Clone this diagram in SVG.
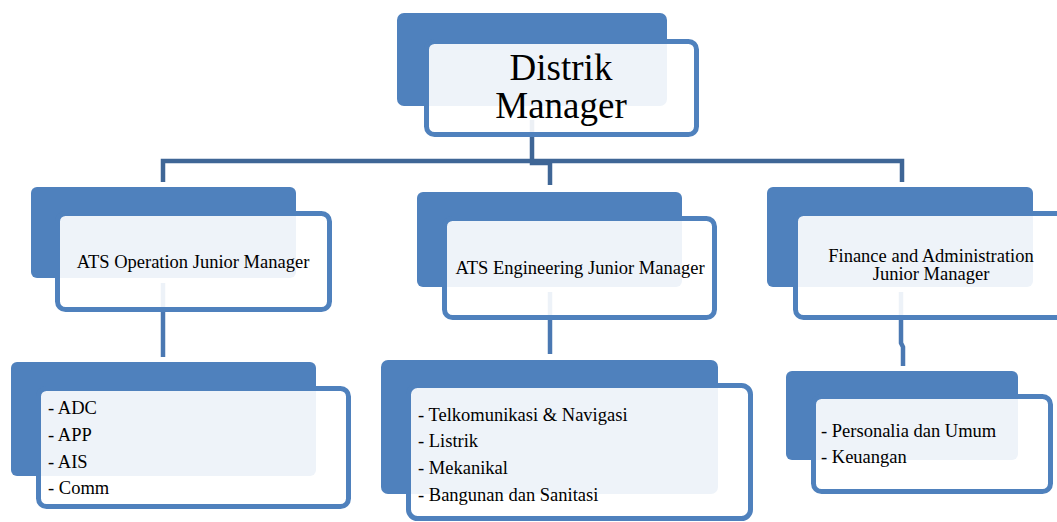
<svg xmlns="http://www.w3.org/2000/svg" width="1057" height="522" viewBox="0 0 1057 522">
<style>
.back{fill:#4F81BD;}
.front{fill:#FFFFFF;fill-opacity:0.9;stroke:#4F81BD;stroke-width:5;}
.conn{fill:none;stroke:#3F6696;stroke-width:4.5;}
.conn2{fill:none;stroke:#4A78B2;stroke-width:4.5;}
text{font-family:"Liberation Serif","Times New Roman",serif;fill:#000;}
.t{font-size:18.5px;}
.c{text-anchor:middle;}
.big{font-size:37px;text-anchor:middle;}
</style>
<rect width="1057" height="522" fill="#FFFFFF"/>
<g id="connectors">
<path class="conn" d="M532 120 V163 H550 V185"/>
<path class="conn" d="M163 182 V161 H902 V182"/>
<path class="conn2" d="M163 283 V357"/>
<path class="conn2" d="M550 292 V354"/>
<path class="conn2" d="M901 292 V343 L903 347 V366"/>
</g>
<g id="node-distrik">
<rect class="back" x="397" y="13" width="270" height="93" rx="7"/>
<rect class="front" x="426.5" y="41.5" width="270" height="93" rx="8"/>
<text class="big" x="561" y="80">Distrik</text>
<text class="big" x="561" y="118">Manager</text>
</g>
<g id="node-operation">
<rect class="back" x="31" y="187" width="265" height="91" rx="6"/>
<rect class="front" x="57.5" y="213.5" width="272" height="96" rx="8"/>
<text class="t c" x="193" y="268">ATS Operation Junior Manager</text>
</g>
<g id="node-engineering">
<rect class="back" x="417" y="192" width="265" height="95" rx="6"/>
<rect class="front" x="444.5" y="218.5" width="270" height="99" rx="8"/>
<text class="t c" x="580" y="274">ATS Engineering Junior Manager</text>
</g>
<g id="node-finance">
<rect class="back" x="767" y="187" width="266" height="100" rx="6"/>
<rect class="front" x="795.5" y="213.5" width="280" height="104" rx="8"/>
<text class="t c" x="931" y="262">Finance and Administration</text>
<text class="t c" x="931" y="280">Junior Manager</text>
</g>
<g id="node-operation-units">
<rect class="back" x="11" y="362" width="305" height="114" rx="6"/>
<rect class="front" x="38.5" y="388.5" width="310" height="118" rx="8"/>
<text class="t" x="48" y="414">- ADC</text>
<text class="t" x="48" y="441">- APP</text>
<text class="t" x="48" y="468">- AIS</text>
<text class="t" x="48" y="494">- Comm</text>
</g>
<g id="node-engineering-units">
<rect class="back" x="381" y="360" width="337" height="134" rx="7"/>
<rect class="front" x="408.5" y="385.5" width="342" height="133" rx="9"/>
<text class="t" x="418" y="421">- Telkomunikasi &amp; Navigasi</text>
<text class="t" x="418" y="447">- Listrik</text>
<text class="t" x="418" y="474">- Mekanikal</text>
<text class="t" x="418" y="501">- Bangunan dan Sanitasi</text>
</g>
<g id="node-finance-units">
<rect class="back" x="786" y="371" width="232" height="89" rx="6"/>
<rect class="front" x="813.5" y="396.5" width="237" height="95" rx="8"/>
<text class="t" x="821" y="437">- Personalia dan Umum</text>
<text class="t" x="821" y="463">- Keuangan</text>
</g>
</svg>
